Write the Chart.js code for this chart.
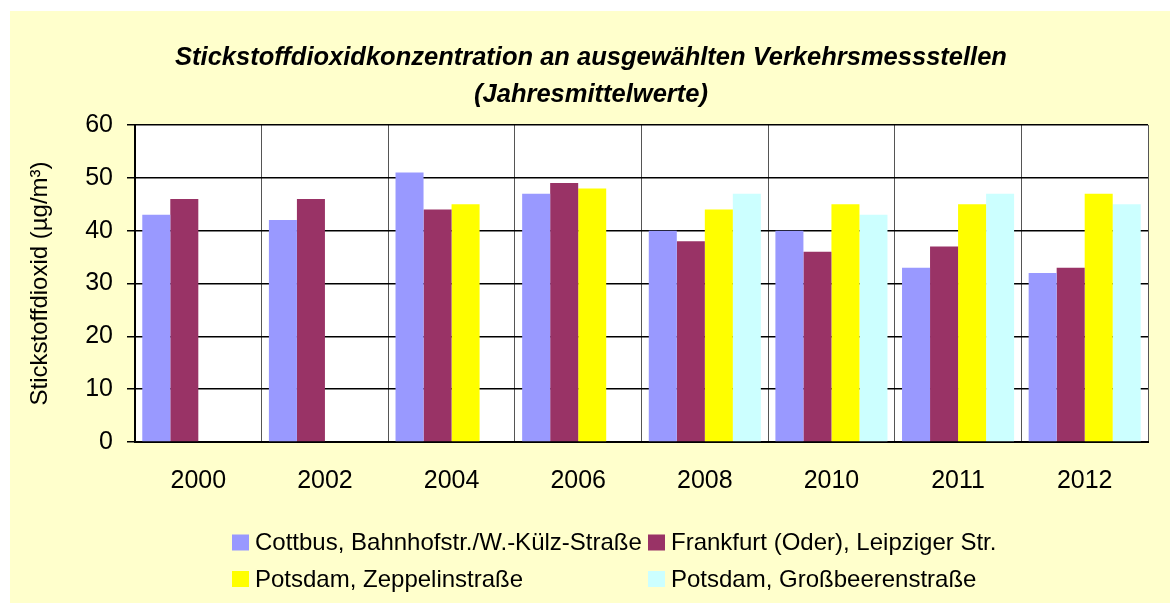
<!DOCTYPE html>
<html>
<head>
<meta charset="utf-8">
<script src="https://cdn.jsdelivr.net/npm/chart.js@4/dist/chart.umd.min.js"></script>
<style>
  html, body { margin: 0; padding: 0; background: #ffffff; }
  #wrap { position: absolute; left: 0; top: 0; width: 1170px; height: 603px; }
</style>
</head>
<body>
<div id="wrap"><canvas id="c" width="1170" height="603"></canvas></div>
<script>
// ---- Data ----
const years = ['2000', '2002', '2004', '2006', '2008', '2010', '2011', '2012'];
const seriesNames = [
  'Cottbus, Bahnhofstr./W.-Külz-Straße',
  'Frankfurt (Oder), Leipziger Str.',
  'Potsdam, Zeppelinstraße',
  'Potsdam, Großbeerenstraße'
];
const cottbus     = [43, 42, 51, 47, 40, 40, 33, 32];
const frankfurt   = [46, 46, 44, 49, 38, 36, 37, 33];
const zeppelin    = [null, null, 45, 48, 44, 45, 45, 47];
const grossbeeren = [null, null, null, null, 47, 43, 47, 45];
const yTicks = [0, 10, 20, 30, 40, 50, 60];
const titleLines = ['Stickstoffdioxidkonzentration an ausgewählten Verkehrsmessstellen', '(Jahresmittelwerte)'];
const yTitle = 'Stickstoffdioxid (µg/m³)';

const colors = ['#9999FF', '#993366', '#FFFF00', '#CCFFFF'];
const FONT = "'Liberation Sans', Arial, sans-serif";

const bgPlugin = {
  id: 'bg',
  beforeDraw(chart) {
    const ctx = chart.ctx;
    const a = chart.chartArea;
    ctx.save();
    ctx.fillStyle = '#FFFFCC';
    ctx.fillRect(10, 11, 1160, 592);
    ctx.fillStyle = '#FFFFFF';
    ctx.fillRect(a.left, a.top, a.right - a.left, a.bottom - a.top);
    ctx.restore();
  }
};

const legendPlugin = {
  id: 'gridLegend',
  afterDraw(chart) {
    const ctx = chart.ctx;
    const cols = [232, 648];
    const rows = [542.5, 579];
    ctx.save();
    ctx.font = '24px ' + FONT;
    ctx.textBaseline = 'middle';
    ctx.textAlign = 'left';
    chart.data.datasets.forEach((ds, i) => {
      const x = cols[i % 2];
      const y = rows[Math.floor(i / 2)];
      ctx.fillStyle = ds.backgroundColor;
      ctx.fillRect(x, y - 8, 17, 16);
      ctx.fillStyle = '#000000';
      ctx.fillText(ds.label, x + 23, y + 1);
    });
    ctx.restore();
  }
};

const seriesData = [cottbus, frankfurt, zeppelin, grossbeeren];

new Chart(document.getElementById('c'), {
  type: 'bar',
  data: {
    labels: years,
    datasets: seriesData.map((d, i) => ({
      label: seriesNames[i],
      data: d,
      backgroundColor: colors[i],
      borderWidth: 0,
      categoryPercentage: 0.885,
      barPercentage: 1.0
    }))
  },
  options: {
    responsive: false,
    animation: false,
    devicePixelRatio: 1,
    layout: { padding: { left: 34, right: 22, top: 11, bottom: 111 } },
    plugins: {
      legend: { display: false },
      tooltip: { enabled: false },
      title: {
        display: true,
        text: titleLines,
        color: '#000000',
        font: { family: FONT, size: 25.5, weight: 'bold', style: 'italic', lineHeight: 1.47 },
        padding: { top: 28, bottom: 11 }
      }
    },
    scales: {
      x: {
        offset: true,
        grid: { offset: true, color: '#555555', lineWidth: 1, drawTicks: false },
        border: { display: true, color: '#000000', width: 2 },
        ticks: { color: '#000000', font: { family: FONT, size: 25 }, padding: 24, maxRotation: 0 },
        afterFit(scale) { scale.height = 50; }
      },
      y: {
        min: 0,
        max: 60,
        afterBuildTicks(scale) { scale.ticks = yTicks.map(v => ({ value: v })); },
        grid: { color: '#000000', lineWidth: 1.5, tickLength: 8 },
        border: { display: true, color: '#000000', width: 2 },
        ticks: { color: '#000000', font: { family: FONT, size: 25 }, padding: 14 },
        title: {
          display: true,
          text: yTitle,
          color: '#000000',
          font: { family: FONT, size: 24, lineHeight: 1.2 },
          padding: { top: -8.4, bottom: 0 }
        },
        afterFit(scale) { scale.width = 101; }
      }
    }
  },
  plugins: [bgPlugin, legendPlugin]
});
</script>
</body>
</html>
